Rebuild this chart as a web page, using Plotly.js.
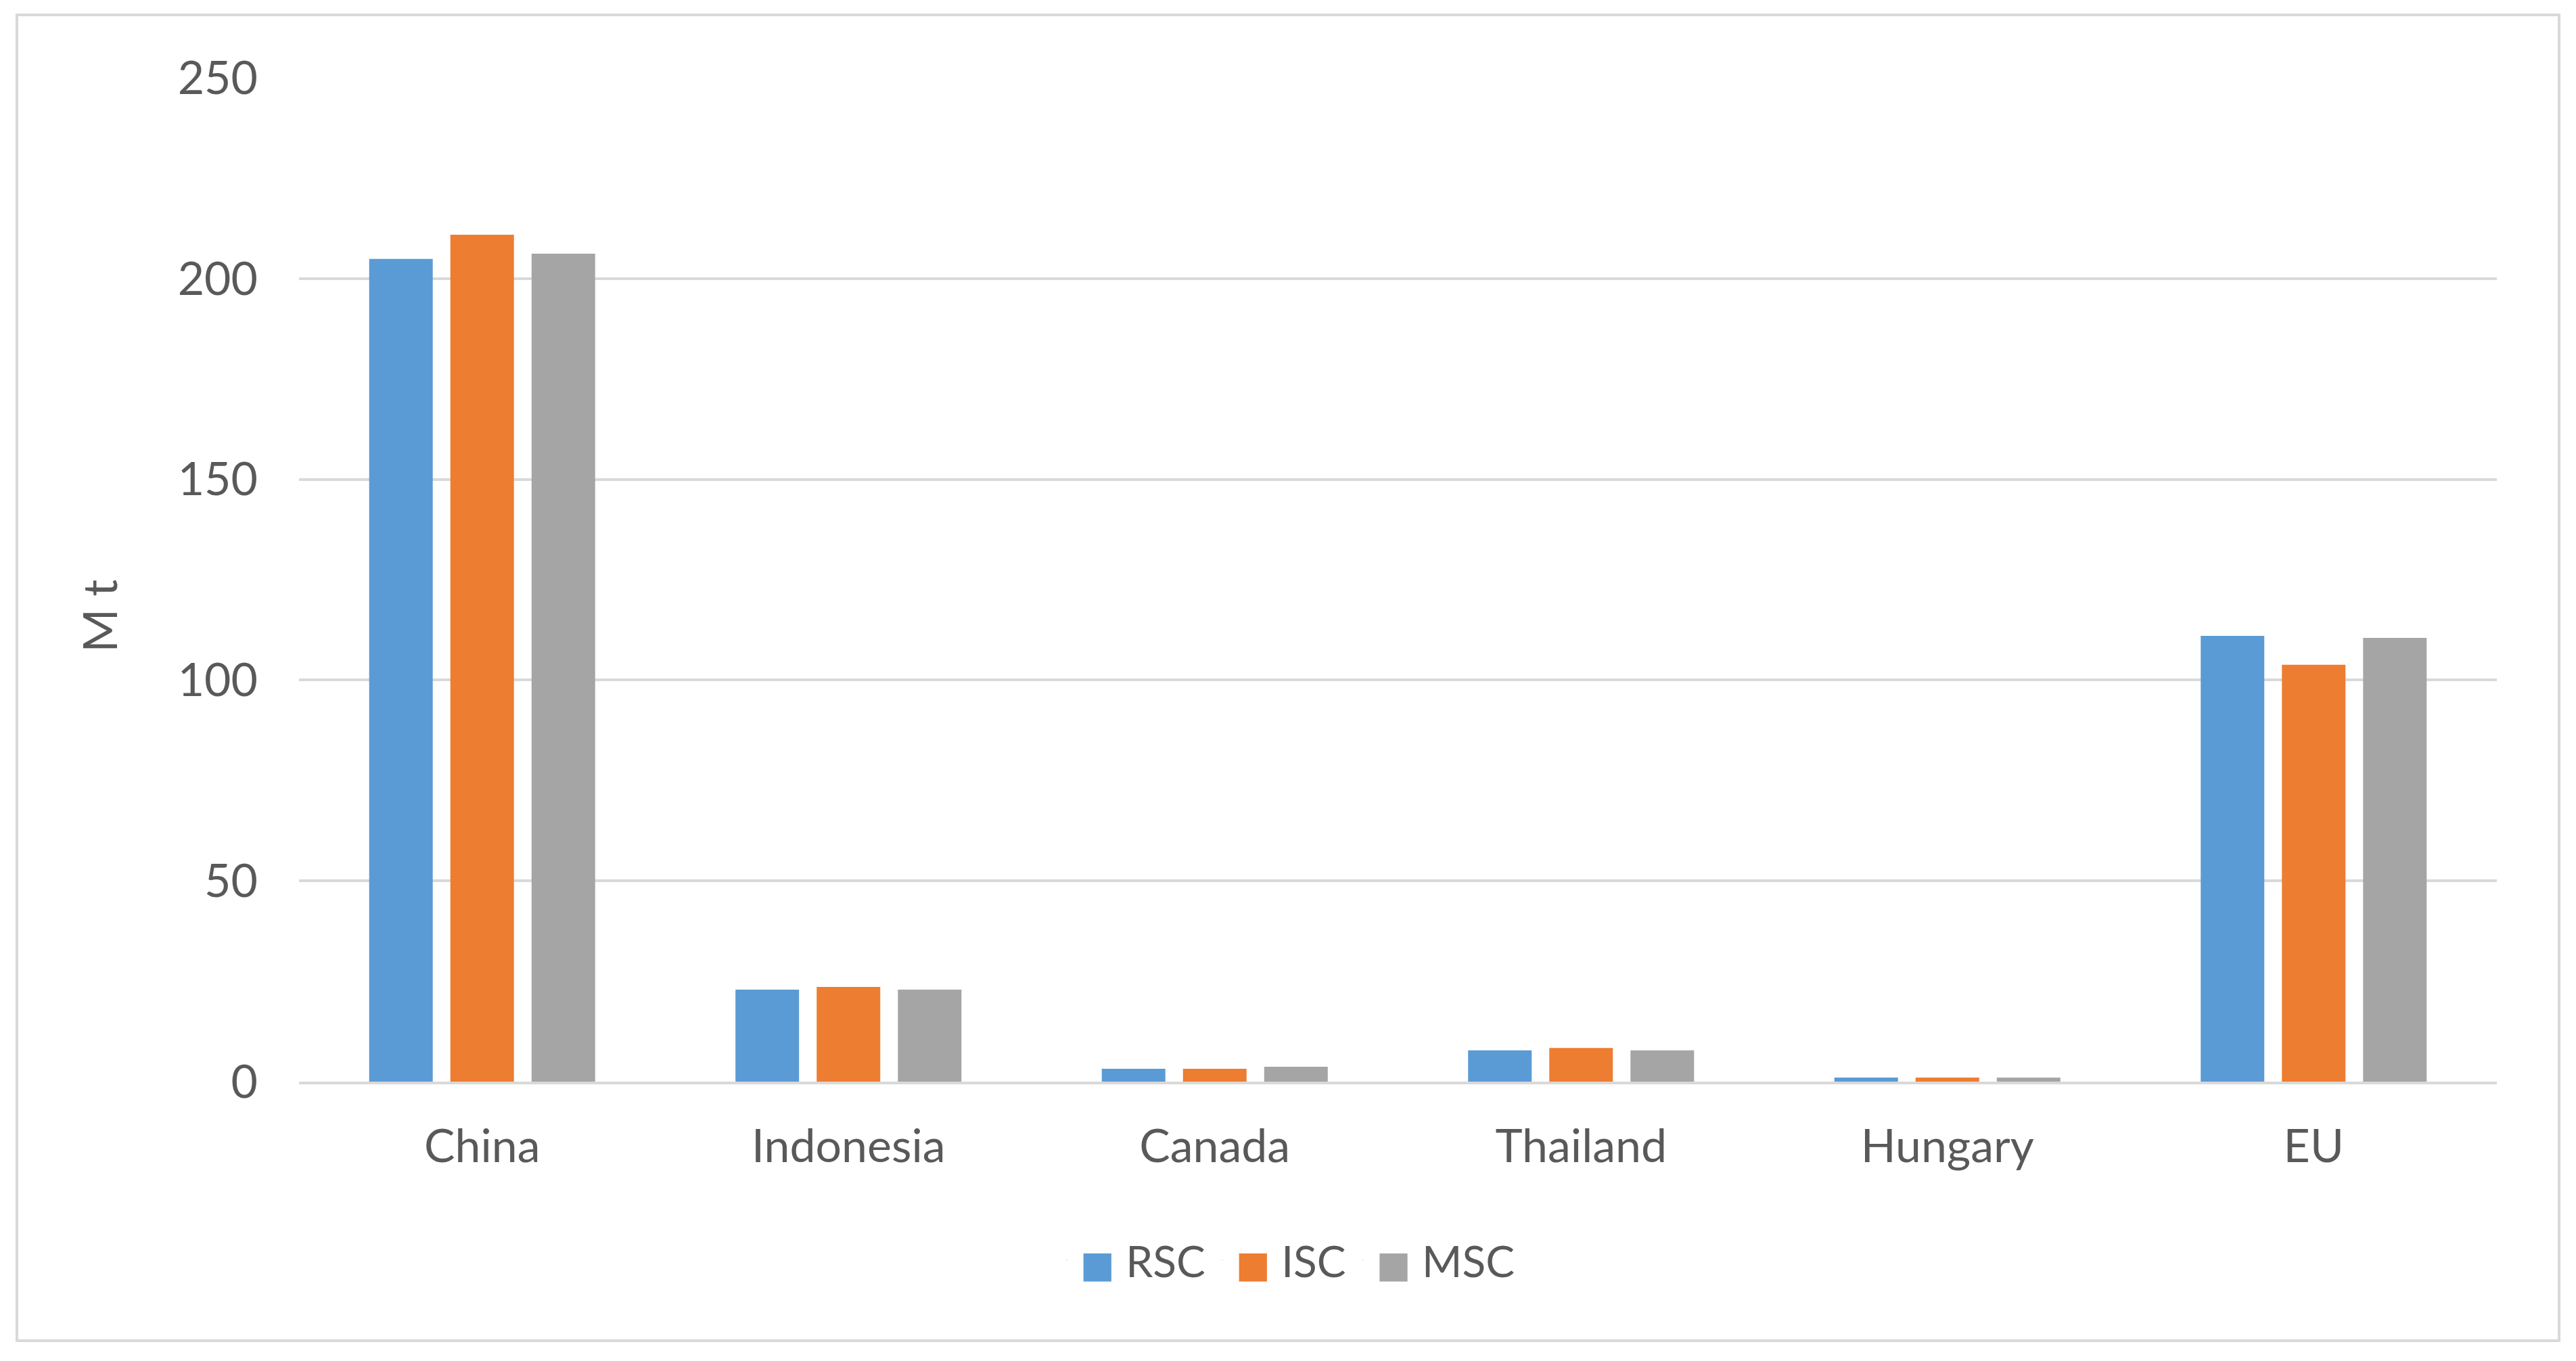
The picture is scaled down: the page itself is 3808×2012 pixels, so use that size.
<!DOCTYPE html>
<html>
<head>
<meta charset="utf-8">
<script src="https://cdn.plot.ly/plotly-3.0.1.min.js"></script>
<style>
  html, body { margin: 0; padding: 0; background: #ffffff; }
  #frame { position: absolute; left: 23px; top: 20px; width: 3754px; height: 1956px; border: 4px solid #d9d9d9; }
  #chart { width: 3754px; height: 1956px; }
</style>
</head>
<body>
<div id="frame"><div id="chart"></div></div>
<script>
const categories = ["China", "Indonesia", "Canada", "Thailand", "Hungary", "EU"];
const rsc = [204.9, 22.9, 3.2, 7.8, 1.0, 111.0];
const isc = [210.9, 23.6, 3.2, 8.4, 1.0, 103.8];
const msc = [206.2, 22.9, 3.7, 7.8, 1.0, 110.5];
const seriesNames = ["RSC", "ISC", "MSC"];
const seriesColors = ["#5B9BD5", "#ED7D31", "#A5A5A5"];
const yTicks = [0, 50, 100, 150, 200, 250];
const yTitle = "M t";

const fontFam = "Lato, 'Open Sans', 'Liberation Sans', sans-serif";
const textColor = "#595959";

const barTraces = [rsc, isc, msc].map((vals, i) => ({
  type: "bar",
  name: seriesNames[i],
  x: categories,
  y: vals,
  marker: { color: seriesColors[i] },
  showlegend: false
}));

// legend entries: coloured square glyph + series name (icon itself hidden, no data drawn)
const legendTraces = seriesNames.map((n, i) => ({
  type: "scatter",
  mode: "markers",
  name: '<span style="color:' + seriesColors[i] + ';font-family:\'DejaVu Sans\';font-size:54px">■</span> ' + n,
  x: [categories[0]],
  y: [null],
  marker: { symbol: "square", size: 1, color: seriesColors[i], opacity: 0 },
  showlegend: true
}));

const layout = {
  width: 3754,
  height: 1956,
  margin: { l: 415, r: 90, t: 91, b: 381 },
  paper_bgcolor: "#ffffff",
  plot_bgcolor: "#ffffff",
  barmode: "group",
  bargap: 0.335,
  bargroupgap: 0.217,
  font: { family: fontFam, size: 66, color: textColor },
  xaxis: {
    type: "category",
    showgrid: false,
    showline: true,
    linecolor: "#d9d9d9",
    linewidth: 4,
    ticks: "",
    ticklabelstandoff: 33,
    tickfont: { family: fontFam, size: 68, color: textColor },
    zeroline: false
  },
  yaxis: {
    range: [0, 250],
    tickvals: yTicks,
    ticktext: yTicks.map(String),
    showgrid: true,
    gridcolor: "#d9d9d9",
    gridwidth: 4,
    zeroline: false,
    showline: false,
    ticks: "",
    ticklabelstandoff: 60,
    tickfont: { family: fontFam, size: 68, color: textColor }
  },
  annotations: [{
    text: yTitle,
    xref: "paper", yref: "paper",
    x: -0.091, y: 0.464,
    xanchor: "center", yanchor: "middle",
    textangle: -90,
    showarrow: false,
    font: { family: fontFam, size: 70, color: textColor }
  }],
  legend: {
    orientation: "h",
    x: 0.449,
    xanchor: "center",
    y: -0.178,
    yanchor: "middle",
    font: { family: fontFam, size: 64, color: textColor },
    itemwidth: 30,
    tracegroupgap: 0
  },
  showlegend: true
};

Plotly.newPlot("chart", barTraces.concat(legendTraces), layout, { displayModeBar: false, staticPlot: true });
</script>
</body>
</html>
